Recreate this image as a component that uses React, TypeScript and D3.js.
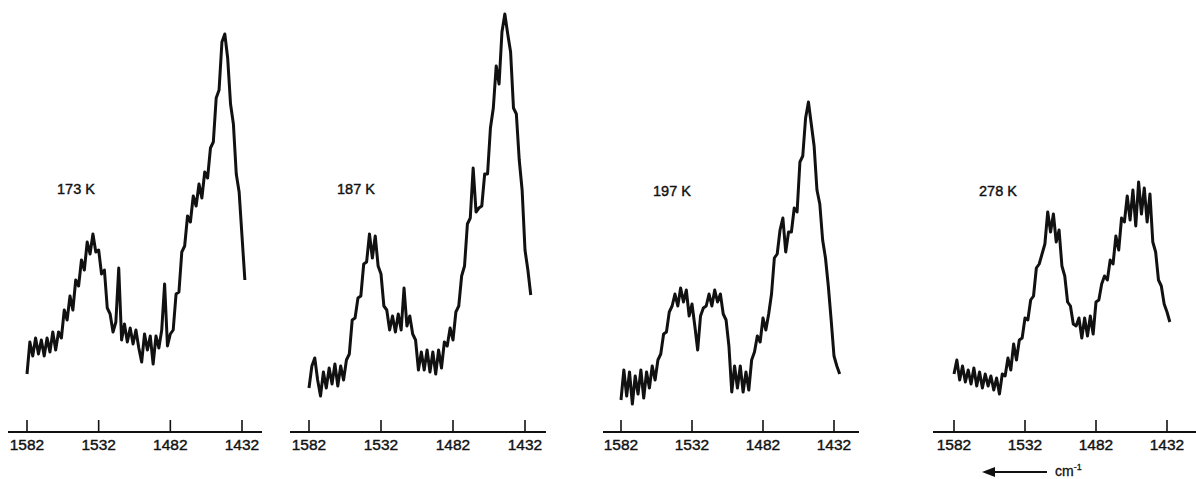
import * as d3 from "d3";

// Raman spectra, intensity (arb. units) sampled every 2 cm-1 starting at 1582
const START_WN = 1582;
const STEP_WN = 2;
const TICK_WN = [1582, 1532, 1482, 1432];
const TEMPS = ["173 K", "187 K", "197 K", "278 K"];

const I_173 = [
  56, 88, 74, 92, 76, 90, 74, 92, 78, 98,
  80, 98, 92, 120, 110, 134, 120, 150, 144, 170,
  160, 188, 176, 196, 178, 180, 156, 160, 122, 116,
  98, 108, 162, 90, 106, 88, 102, 86, 100, 82,
  68, 96, 80, 94, 66, 94, 82, 100, 146, 84,
  96, 100, 136, 138, 178, 184, 214, 208, 234, 224,
  246, 232, 258, 252, 282, 288, 332, 340, 388, 396,
  372, 326, 306, 256, 238, 194, 150,
];
const I_187 = [
  42, 64, 72, 50, 34, 58, 42, 62, 46, 66,
  44, 64, 50, 70, 76, 110, 112, 132, 134, 166,
  168, 196, 172, 194, 164, 156, 124, 120, 100, 114,
  98, 116, 100, 142, 104, 114, 96, 90, 60, 78,
  60, 80, 58, 78, 56, 80, 62, 88, 84, 102,
  90, 118, 124, 154, 164, 206, 212, 262, 218, 222,
  224, 256, 256, 302, 322, 364, 346, 398, 416, 396,
  378, 322, 316, 270, 240, 180, 160, 135,
];
const I_197 = [
  30, 60, 34, 58, 26, 54, 36, 60, 32, 58,
  42, 64, 50, 70, 76, 96, 98, 118, 124, 136,
  124, 142, 128, 140, 114, 126, 104, 80, 114, 122,
  124, 136, 124, 140, 128, 136, 116, 110, 84, 38,
  64, 42, 64, 38, 58, 40, 70, 78, 94, 88,
  112, 100, 116, 136, 172, 176, 200, 212, 178, 198,
  198, 222, 218, 268, 274, 312, 328, 306, 284, 240,
  226, 190, 172, 144, 110, 74, 64, 56,
];
const I_278 = [
  56, 70, 50, 64, 48, 60, 46, 62, 44, 58,
  42, 56, 44, 54, 40, 52, 36, 56, 54, 72,
  60, 86, 70, 90, 92, 112, 110, 130, 134, 162,
  166, 176, 186, 218, 198, 216, 188, 200, 164, 154,
  128, 124, 106, 104, 112, 92, 112, 94, 114, 96,
  128, 130, 146, 154, 150, 170, 166, 194, 180, 212,
  208, 234, 210, 240, 204, 248, 216, 242, 208, 236,
  188, 178, 150, 144, 126, 118, 108,
];

const SERIES = [I_173, I_187, I_197, I_278];

// layout of the four panels (pixel positions of 1582 and 1432 ticks, axis extent, label)
const LAYOUT = [
  { r0: 27, r1: 242, a0: 8, a1: 262, lx: 57, ly: 194 },
  { r0: 309, r1: 525, a0: 290, a1: 546, lx: 337, ly: 194 },
  { r0: 621, r1: 834, a0: 603, a1: 859, lx: 653, ly: 196 },
  { r0: 954, r1: 1167, a0: 933, a1: 1196, lx: 979, ly: 196 },
];

const W = 1196;
const H = 479;
const AXIS_Y = 432;
const FONT = "'Liberation Sans', Arial, Helvetica, sans-serif";
const INK = "#111";

const y = d3.scaleLinear().domain([0, 430]).range([430, 0]);

function Panel({ idx }: { idx: number }) {
  const L = LAYOUT[idx];
  const vals = SERIES[idx];
  const x = d3.scaleLinear().domain([1582, 1432]).range([L.r0, L.r1]);
  const pts = vals.map((v, i) => ({ wn: START_WN - i * STEP_WN, v }));
  const line = d3
    .line<{ wn: number; v: number }>()
    .x((d) => x(d.wn))
    .y((d) => y(d.v));

  return (
    <g>
      <path d={line(pts) ?? ""} fill="none" stroke={INK} strokeWidth={3} strokeLinejoin="round" />
      <line x1={L.a0} x2={L.a1} y1={AXIS_Y} y2={AXIS_Y} stroke={INK} strokeWidth={2} />
      {TICK_WN.map((t) => (
        <g key={t}>
          <line x1={x(t)} x2={x(t)} y1={AXIS_Y - 12} y2={AXIS_Y} stroke={INK} strokeWidth={1.6} />
          <text
            x={x(t)}
            y={450}
            textAnchor="middle"
            fontFamily={FONT}
            fontSize={15.5}
            fill={INK}
            stroke={INK}
            strokeWidth={0.4}
          >
            {t}
          </text>
        </g>
      ))}
      <text
        x={L.lx}
        y={L.ly}
        fontFamily={FONT}
        fontSize={14.5}
        fill={INK}
        stroke={INK}
        strokeWidth={0.4}
      >
        {TEMPS[idx]}
      </text>
    </g>
  );
}

export default function App() {
  return (
    <svg
      width={W}
      height={H}
      style={{ position: "absolute", left: 0, top: 0, background: "#fff" }}
    >
      <rect width={W} height={H} fill="#fff" />
      {LAYOUT.map((_, i) => (
        <Panel key={i} idx={i} />
      ))}
      {/* direction of decreasing wavenumber */}
      <line x1={992} x2={1047} y1={472} y2={472} stroke={INK} strokeWidth={2.2} />
      <path d="M982,472 L995,467 L995,477 Z" fill={INK} />
      <text x={1055} y={476} fontFamily={FONT} fontSize={14} fill={INK} stroke={INK} strokeWidth={0.3}>
        cm
        <tspan dy={-6} fontSize={9}>
          -1
        </tspan>
      </text>
    </svg>
  );
}
